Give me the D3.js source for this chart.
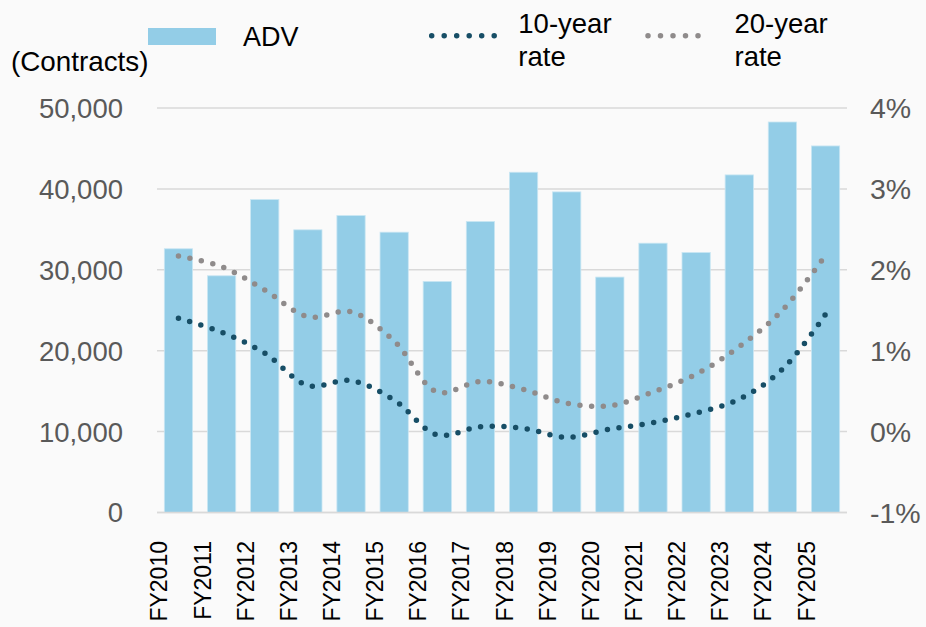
<!DOCTYPE html>
<html>
<head>
<meta charset="utf-8">
<script src="https://cdn.jsdelivr.net/npm/d3@7/dist/d3.min.js"></script>
<style>
  html, body { margin: 0; padding: 0; background: #fafafa; }
  svg { display: block; font-family: "Liberation Sans", Arial, sans-serif; }
</style>
</head>
<body>
<svg id="chart" width="926" height="627"></svg>
<script>
const categories = ["FY2010","FY2011","FY2012","FY2013","FY2014","FY2015","FY2016","FY2017",
                    "FY2018","FY2019","FY2020","FY2021","FY2022","FY2023","FY2024","FY2025"];
const adv = [32600, 29260, 38680, 34940, 36700, 34650, 28560, 35970,
             42060, 39630, 29100, 33290, 32140, 41730, 48270, 45310];
const rate10 = [1.40, 1.23, 0.97, 0.57, 0.63, 0.39, -0.04, 0.06,
                0.04, -0.07, 0.03, 0.11, 0.23, 0.40, 0.77, 1.45];
const rate20 = [2.17, 2.04, 1.75, 1.42, 1.48, 1.12, 0.49, 0.62,
                0.52, 0.35, 0.32, 0.49, 0.71, 1.05, 1.50, 2.18];
const leftTicks = [0, 10000, 20000, 30000, 40000, 50000];
const rightTicks = [-1, 0, 1, 2, 3, 4];

const svg = d3.select("#chart");
const plot = { left: 157, right: 847, top: 108, bottom: 512.5 };

const x = d3.scaleBand().domain(categories).range([plot.left, plot.right]).paddingInner(0.345).paddingOuter(0.17);
const yL = d3.scaleLinear().domain([0, 50000]).range([plot.bottom, plot.top]);
const yR = d3.scaleLinear().domain([-1, 4]).range([plot.bottom, plot.top]);

// gridlines
svg.append("g").selectAll("line").data(leftTicks).join("line")
  .attr("x1", plot.left).attr("x2", plot.right)
  .attr("y1", d => yL(d)).attr("y2", d => yL(d))
  .attr("stroke", "#d9d9d9").attr("stroke-width", 1.5);

// bars
svg.append("g").selectAll("rect").data(adv).join("rect")
  .attr("x", (d, i) => x(categories[i]))
  .attr("width", x.bandwidth())
  .attr("y", d => yL(d))
  .attr("height", d => yL(0) - yL(d))
  .attr("fill", "#93cde7")
  .attr("stroke", "#c9e6f3").attr("stroke-width", 0.8);

// axis baseline
svg.append("line").attr("x1", plot.left).attr("x2", plot.right)
  .attr("y1", yL(0)).attr("y2", yL(0)).attr("stroke", "#d9d9d9").attr("stroke-width", 1.5);

// lines
const cx = i => x(categories[i]) + x.bandwidth() / 2;
const lineGen = d3.line().x((d, i) => cx(i)).y(d => yR(d)).curve(d3.curveCatmullRom.alpha(0.5));
function dotted(sel, data, color) {
  sel.append("path").datum(data).attr("d", lineGen)
    .attr("fill", "none").attr("stroke", color).attr("stroke-width", 5.5)
    .attr("stroke-linecap", "round").attr("stroke-dasharray", "0 11.7");
}
dotted(svg, rate20, "#8f8b8b");
dotted(svg, rate10, "#174e66");

// left axis labels
const fmt = d3.format(",");
svg.append("g").selectAll("text").data(leftTicks).join("text")
  .attr("x", 123).attr("y", d => yL(d)).attr("dy", "0.36em")
  .attr("text-anchor", "end").attr("font-size", 27.5).attr("fill", "#595959")
  .text(d => fmt(d));

// right axis labels
svg.append("g").selectAll("text").data(rightTicks).join("text")
  .attr("x", 870).attr("y", d => yR(d)).attr("dy", "0.36em")
  .attr("text-anchor", "start").attr("font-size", 28.5).attr("fill", "#595959")
  .text(d => d + "%");

// x labels
svg.append("g").selectAll("text").data(categories).join("text")
  .attr("transform", (d, i) => `translate(${cx(i) - 11},541) rotate(-90)`)
  .attr("text-anchor", "end").attr("font-size", 23).attr("fill", "#000")
  .text(d => d);

// y-axis title
svg.append("text").attr("x", 11).attr("y", 71).attr("font-size", 27.8).attr("fill", "#000").text("(Contracts)");

// legend
const lg = svg.append("g");
lg.append("rect").attr("x", 148).attr("y", 28).attr("width", 68).attr("height", 17).attr("fill", "#93cde7");
lg.append("text").attr("x", 243).attr("y", 46).attr("font-size", 27).attr("fill", "#000").text("ADV");

function legendLine(x0, x1, color, label) {
  lg.append("line").attr("x1", x0).attr("x2", x1).attr("y1", 35.7).attr("y2", 35.7)
    .attr("stroke", color).attr("stroke-width", 5.5).attr("stroke-linecap", "round")
    .attr("stroke-dasharray", "0 12.5");
  const t = lg.append("text").attr("font-size", 27.5).attr("fill", "#000");
  t.append("tspan").attr("x", x1 + 24).attr("y", 33).text(label);
  t.append("tspan").attr("x", x1 + 24).attr("y", 66).text("rate");
}
legendLine(431.7, 494.3, "#174e66", "10-year");
legendLine(648, 710.5, "#8f8b8b", "20-year");
</script>
</body>
</html>
